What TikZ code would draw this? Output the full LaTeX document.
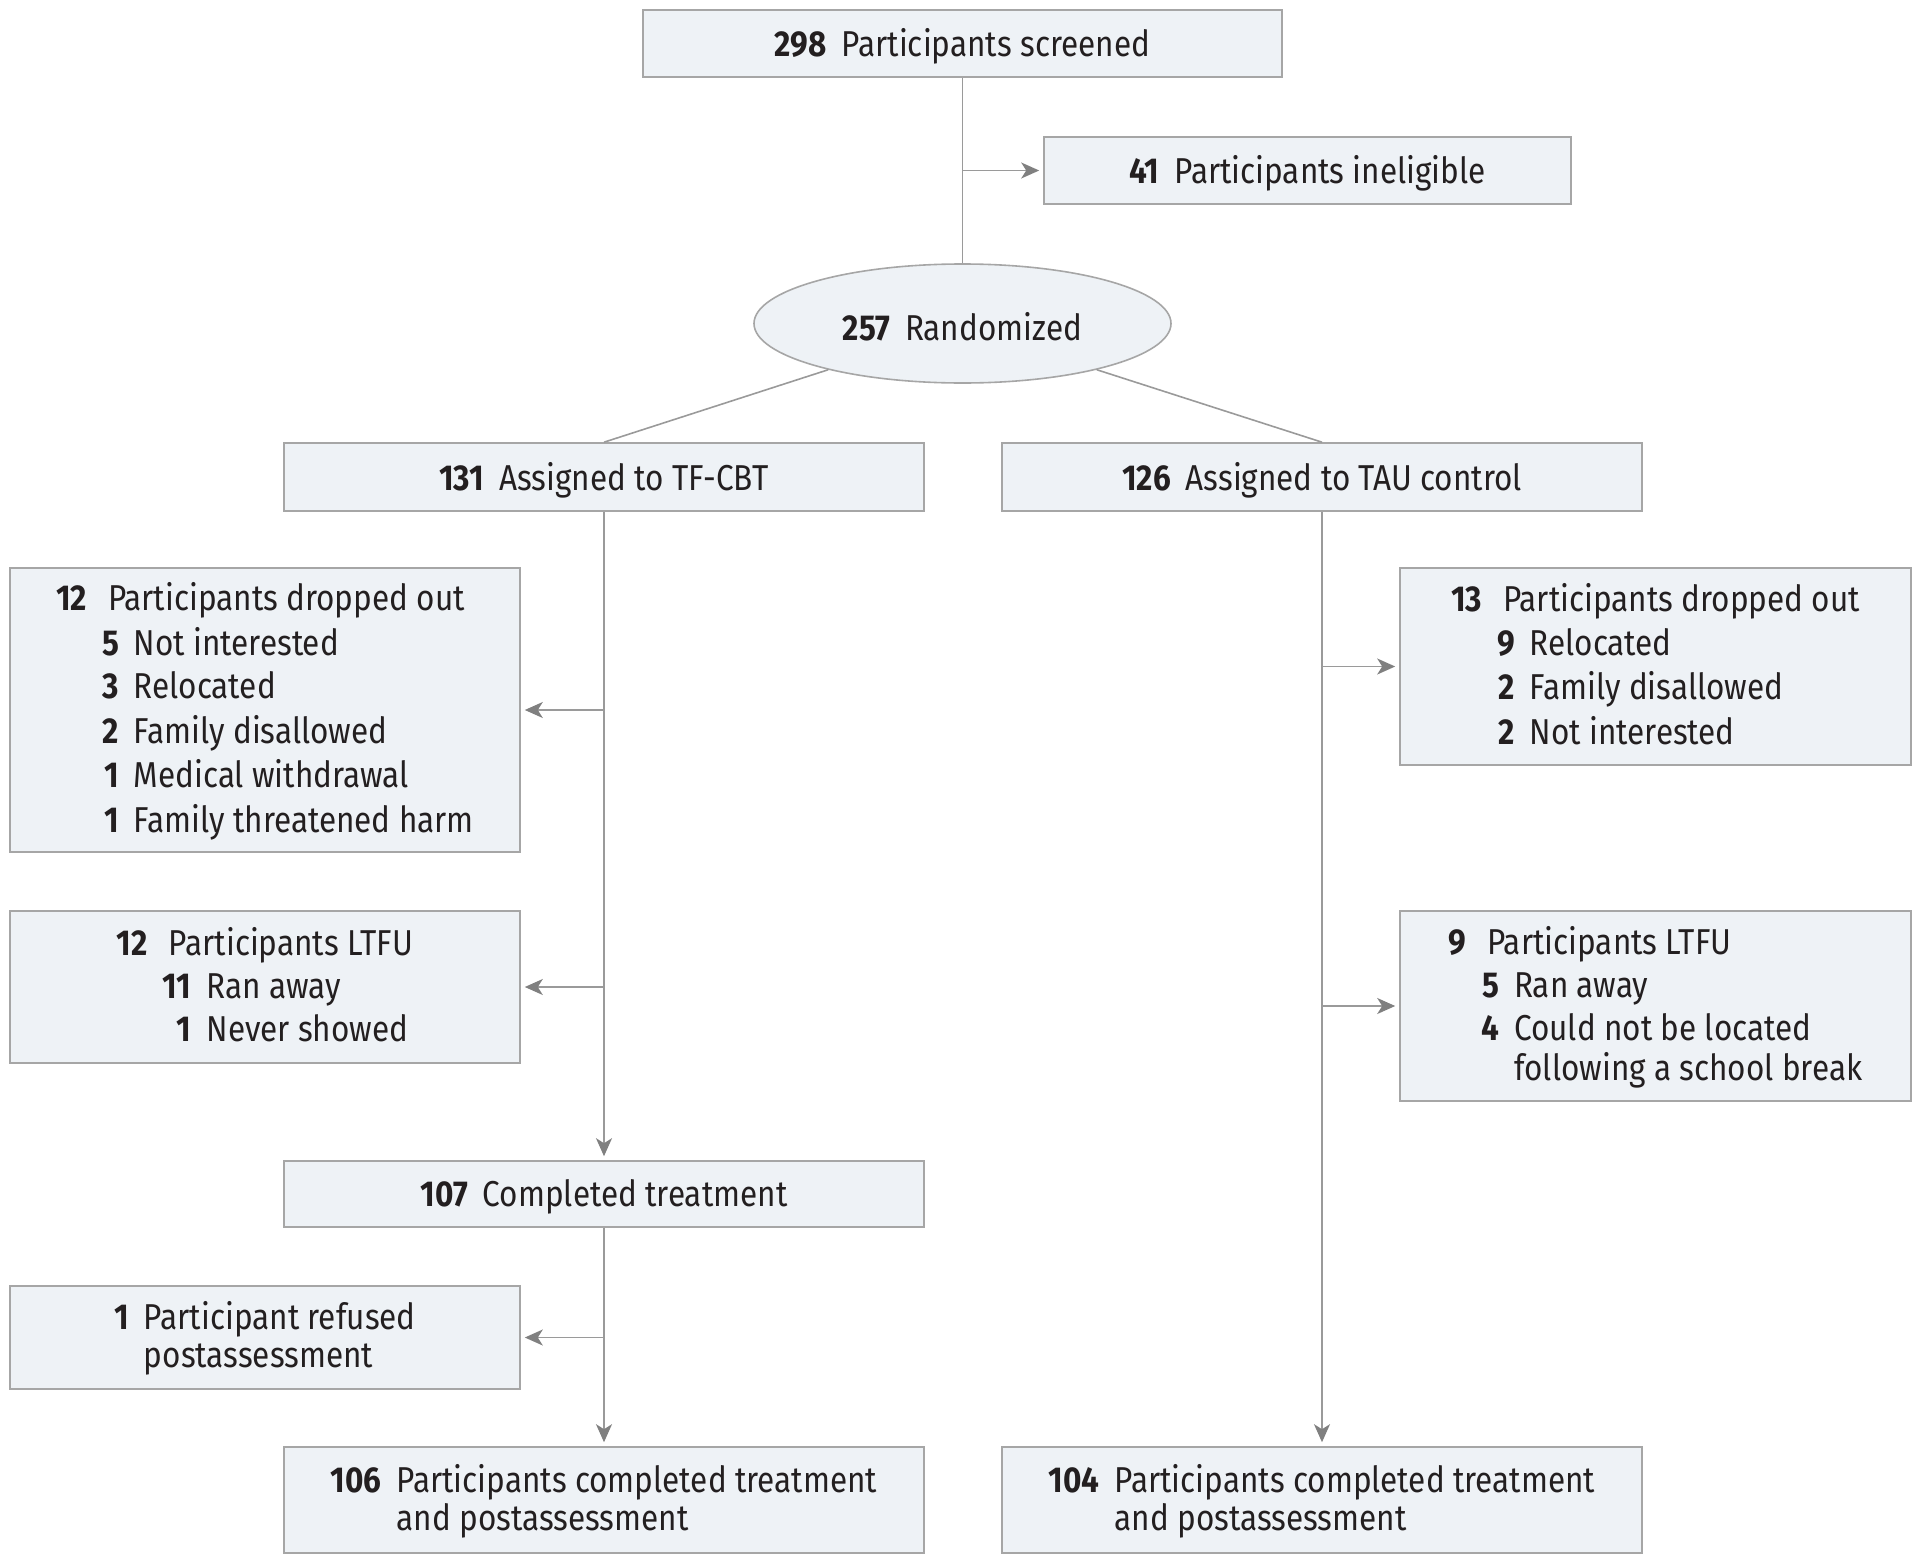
\documentclass[tikz,border=0pt]{standalone}
\usepackage{fontspec}
\setmainfont{Fira Sans}[FakeStretch=0.875]
\usetikzlibrary{arrows.meta,shapes.geometric}
\definecolor{boxfill}{HTML}{EEF2F6}
\definecolor{boxline}{HTML}{A6A6A6}
\definecolor{conn}{HTML}{9A9A9A}
\definecolor{tipc}{HTML}{808080}
\definecolor{txt}{HTML}{231F20}
\newcommand\nb[1]{\textbf{#1}}
\newcommand\gap{\hspace{15pt}}
\newcommand\dn[1]{\raisebox{-3pt}[\height][\depth]{#1}}
\begin{document}
\begin{tikzpicture}[x=1pt,y=-1pt,
  box/.style={draw=boxline, fill=boxfill, line width=1.6pt, inner sep=0pt, text=txt,
    font=\fontsize{36}{38}\selectfont},
  ell/.style={box, ellipse},
  conline/.style={draw=conn, line width=1.6pt},
  arr/.style={conline, -{Stealth[length=18pt,width=16pt,inset=5pt,color=tipc]}, shorten >=4pt}]
\useasboundingbox (0,0) rectangle (1920,1563);

\node[box, minimum width=639pt, minimum height=67pt] (scr) at (962.5,43.5) {\dn{\nb{298}\gap Participants screened}};
\node[box, minimum width=527pt, minimum height=67pt] (inel) at (1307.5,170.5) {\dn{\nb{41}\gap Participants ineligible}};
\node[ell, minimum width=417pt, minimum height=119pt] (rand) at (962.5,323.5) {\dn{\nb{257}\gap Randomized}};

\node[box, minimum width=640pt, minimum height=68pt] (tf) at (604,477) {\dn{\nb{131}\gap Assigned to TF-CBT}};
\node[box, minimum width=640pt, minimum height=68pt] (tau) at (1322,477) {\dn{\nb{126}\gap Assigned to TAU control}};

\node[box, minimum width=510pt, minimum height=284pt] (dl) at (265,710) {\dn{\begin{tabular}{@{}r@{\gap}r@{\gap}l@{}}
\nb{12} & \multicolumn{2}{l@{}}{Participants dropped out}\\[5pt]
 & \nb{5} & Not interested\\[5pt]
 & \nb{3} & Relocated\\[5pt]
 & \nb{2} & Family disallowed\\[5pt]
 & \nb{1} & Medical withdrawal\\[5pt]
 & \nb{1} & Family threatened harm
\end{tabular}}};

\node[box, minimum width=510pt, minimum height=152pt] (ll) at (265,987) {\dn{\begin{tabular}{@{}r@{\gap}r@{\gap}l@{}}
\nb{12} & \multicolumn{2}{l@{}}{Participants LTFU}\\[5pt]
 & \nb{11} & Ran away\\[5pt]
 & \nb{1} & Never showed
\end{tabular}}};

\node[box, minimum width=640pt, minimum height=66pt] (comp) at (604,1194) {\dn{\nb{107}\gap Completed treatment}};

\node[box, minimum width=510pt, minimum height=103pt] (ref) at (265,1337.5) {\dn{\begin{tabular}{@{}r@{\gap}l@{}}
\nb{1} & Participant refused\\
 & postassessment
\end{tabular}}};

\node[box, minimum width=640pt, minimum height=106pt] (fl) at (604,1500) {\dn{\begin{tabular}{@{}r@{\gap}l@{}}
\nb{106} & Participants completed treatment\\
 & and postassessment
\end{tabular}}};

\node[box, minimum width=511pt, minimum height=197pt] (dr) at (1655.5,666.5) {\dn{\begin{tabular}{@{}r@{\gap}r@{\gap}l@{}}
\nb{13} & \multicolumn{2}{l@{}}{Participants dropped out}\\[5pt]
 & \nb{9} & Relocated\\[5pt]
 & \nb{2} & Family disallowed\\[5pt]
 & \nb{2} & Not interested
\end{tabular}}};

\node[box, minimum width=511pt, minimum height=190pt] (lr) at (1655.5,1006) {\dn{\begin{tabular}{@{}r@{\gap}r@{\gap}l@{}}
\nb{9} & \multicolumn{2}{l@{}}{Participants LTFU}\\[5pt]
 & \nb{5} & Ran away\\[5pt]
 & \nb{4} & Could not be located\\
 & & following a school break
\end{tabular}}};

\node[box, minimum width=640pt, minimum height=106pt] (fr) at (1322,1500) {\dn{\begin{tabular}{@{}r@{\gap}l@{}}
\nb{104} & Participants completed treatment\\
 & and postassessment
\end{tabular}}};

% connectors
\draw[conline] (scr.south) -- (rand.north);
\coordinate (j0) at (scr.south |- inel.west);
\draw[arr] (j0) -- (inel.west);

\draw[conline] (rand.199) -- (tf.north);
\draw[conline] (rand.-19) -- (tau.north);

\draw[arr] (tf.south) -- (comp.north);
\coordinate (j1) at (tf.south |- dl.east);
\coordinate (j2) at (tf.south |- ll.east);
\draw[arr] (j1) -- (dl.east);
\draw[arr] (j2) -- (ll.east);

\draw[arr] (comp.south) -- (fl.north);
\coordinate (j3) at (comp.south |- ref.east);
\draw[arr] (j3) -- (ref.east);

\draw[arr] (tau.south) -- (fr.north);
\coordinate (j4) at (tau.south |- dr.west);
\coordinate (j5) at (tau.south |- lr.west);
\draw[arr] (j4) -- (dr.west);
\draw[arr] (j5) -- (lr.west);
\end{tikzpicture}
\end{document}
